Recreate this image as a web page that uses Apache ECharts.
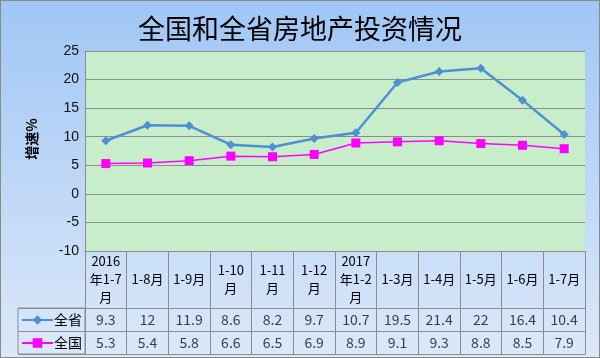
<!DOCTYPE html>
<html><head><meta charset="utf-8">
<script src="https://cdn.jsdelivr.net/npm/echarts@6/dist/echarts.min.js"></script>
<style>
html,body{margin:0;padding:0;background:#fff;}
#c{width:598px;height:356px;border:1px solid #8a8a8a;}
</style></head>
<body><div id="c"></div>
<script>
const categories = ['2016年1-7月','1-8月','1-9月','1-10月','1-11月','1-12月','2017年1-2月','1-3月','1-4月','1-5月','1-6月','1-7月'];
const headerLabels = ['2016\n年1-7\n月','1-8月','1-9月','1-10\n月','1-11\n月','1-12\n月','2017\n年1-2\n月','1-3月','1-4月','1-5月','1-6月','1-7月'];
const provinceValues = [9.3, 12, 11.9, 8.6, 8.2, 9.7, 10.7, 19.5, 21.4, 22, 16.4, 10.4];
const nationalValues = [5.3, 5.4, 5.8, 6.6, 6.5, 6.9, 8.9, 9.1, 9.3, 8.8, 8.5, 7.9];
const seriesNames = ['全省', '全国'];
const yTicks = [-10, 25, 5];

const FONT = '"Noto Sans CJK SC", sans-serif';
const GRAY = '#8c8c8c';
const chart = echarts.init(document.getElementById('c'), null, {renderer: 'canvas'});

const tableData = [];
categories.forEach((c, i) => {
  tableData.push({value: [i, seriesNames[0]], label: {formatter: String(provinceValues[i])}});
  tableData.push({value: [i, seriesNames[1]], label: {formatter: String(nationalValues[i])}});
});

const legendBase = {
  left: 15, itemWidth: 31, itemHeight: 12, itemGap: 0,
  textStyle: {fontFamily: FONT, fontSize: 14, color: '#000', padding: [0, 0, 0, -4]}
};

chart.setOption({
  backgroundColor: new echarts.graphic.LinearGradient(0, 0, 0, 1, [
    {offset: 0, color: '#a0c6f5'}, {offset: 1, color: '#dbe8f9'}
  ]),
  title: {
    text: '全国和全省房地产投资情况', left: 'center', top: 9,
    textStyle: {fontFamily: FONT, fontSize: 27, fontWeight: 'normal', color: '#000'}
  },
  legend: [
    Object.assign({data: [seriesNames[0]], top: 307}, legendBase),
    Object.assign({data: [seriesNames[1]], top: 330}, legendBase)
  ],
  grid: [
    {left: 84, top: 50, width: 500, height: 200, show: true, backgroundColor: '#c8edcb', borderWidth: 0},
    {left: 84, top: 307, width: 500, height: 46, show: false},
    {left: 17, top: 307, width: 67, height: 46, show: true, borderColor: GRAY, borderWidth: 1, backgroundColor: 'transparent'}
  ],
  xAxis: [
    {
      gridIndex: 0, type: 'category', data: categories, boundaryGap: true,
      axisLine: {show: true, onZero: false, lineStyle: {color: GRAY}},
      axisTick: {show: true, length: 57, interval: 0, lineStyle: {color: GRAY}},
      axisLabel: {
        interval: 0, margin: 28, lineHeight: 18, fontFamily: FONT, fontSize: 13, color: '#000',
        formatter: (v, i) => headerLabels[i],
        verticalAlign: 'middle'
      },
      splitLine: {show: false}
    },
    {
      gridIndex: 1, type: 'category', data: categories, boundaryGap: true,
      axisLine: {show: true, onZero: false, lineStyle: {color: GRAY}},
      axisTick: {show: false}, axisLabel: {show: false},
      splitLine: {show: true, interval: 0, lineStyle: {color: GRAY}}
    },
    {
      gridIndex: 2, type: 'value', show: false
    }
  ],
  yAxis: [
    {
      gridIndex: 0, type: 'value', min: yTicks[0], max: yTicks[1], interval: yTicks[2],
      axisLine: {show: true, lineStyle: {color: GRAY}},
      axisTick: {show: false},
      axisLabel: {fontFamily: '"Liberation Sans", Arial, sans-serif', fontSize: 14, color: '#111', margin: 6},
      splitLine: {show: true, lineStyle: {color: GRAY, width: 1}},
      name: '增速%', nameLocation: 'middle', nameGap: 46, nameRotate: 90,
      nameTextStyle: {fontFamily: FONT, fontSize: 14, fontWeight: 'bold', color: '#000', padding: [0, 0, 0, 24]}
    },
    {
      gridIndex: 1, type: 'category', data: seriesNames, inverse: true,
      axisLine: {show: false}, axisTick: {show: false}, axisLabel: {show: false},
      splitLine: {show: true, interval: 0, lineStyle: {color: GRAY}}
    },
    {
      gridIndex: 2, type: 'category', data: seriesNames, inverse: true,
      axisLine: {show: false}, axisTick: {show: false}, axisLabel: {show: false},
      splitLine: {show: true, interval: 0, lineStyle: {color: GRAY}}
    }
  ],
  series: [
    {
      name: seriesNames[0], type: 'line', xAxisIndex: 0, yAxisIndex: 0,
      data: provinceValues, symbol: 'diamond', symbolSize: 9,
      itemStyle: {color: '#4f8fd4'}, lineStyle: {color: '#4f8fd4', width: 2.5}, z: 3
    },
    {
      name: seriesNames[1], type: 'line', xAxisIndex: 0, yAxisIndex: 0,
      data: nationalValues, symbol: 'rect', symbolSize: 9,
      itemStyle: {color: '#ff00ff'}, lineStyle: {color: '#ff00ff', width: 1.5}, z: 4
    },
    {
      type: 'scatter', xAxisIndex: 1, yAxisIndex: 1, data: tableData,
      symbolSize: 0, silent: true,
      label: {show: true, position: 'inside', fontFamily: FONT, fontSize: 14, color: '#111'}
    }
  ],
  animation: false
});
</script></body></html>
